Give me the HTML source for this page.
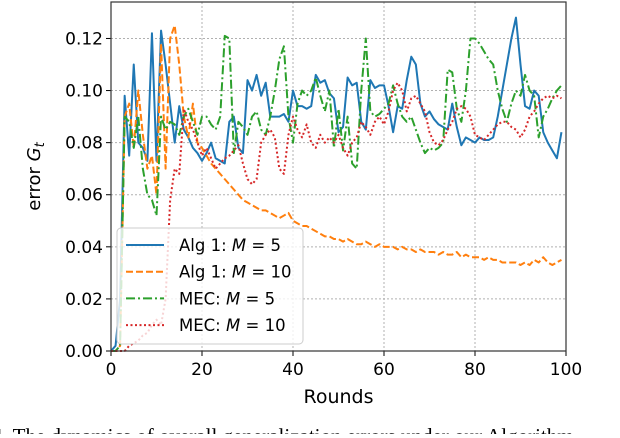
<!DOCTYPE html>
<html><head><meta charset="utf-8"><style>
body{margin:0;background:#fff;width:620px;height:434px;overflow:hidden;font-family:"DejaVu Sans","Liberation Sans",sans-serif}
</style></head><body>
<svg id="chart" width="620" height="434" xmlns="http://www.w3.org/2000/svg" font-family="DejaVu Sans, Liberation Sans, sans-serif">
<g id="grid"></g><g id="series"></g><g id="axes"></g><g id="legend"></g>
<text x="-8" y="443" font-family="Liberation Serif, serif" font-size="21" fill="#000">4. The dynamics of overall generalization errors under our Algorithm</text>
</svg>
<script>
const rounds = Array.from({length:100},(_,i)=>i);
const alg1M5 = [0,0.002,0.02,0.098,0.075,0.11,0.08,0.078,0.073,0.122,0.073,0.123,0.11,0.095,0.08,0.094,0.085,0.082,0.078,0.076,0.073,0.076,0.08,0.074,0.073,0.072,0.088,0.09,0.078,0.076,0.104,0.1,0.106,0.098,0.103,0.09,0.09,0.09,0.091,0.088,0.1,0.094,0.094,0.093,0.094,0.106,0.103,0.104,0.099,0.097,0.084,0.086,0.105,0.102,0.103,0.088,0.085,0.104,0.101,0.102,0.102,0.094,0.084,0.094,0.093,0.104,0.113,0.11,0.095,0.09,0.092,0.089,0.087,0.086,0.085,0.095,0.086,0.079,0.082,0.081,0.08,0.082,0.081,0.081,0.082,0.09,0.1,0.11,0.12,0.128,0.11,0.094,0.093,0.1,0.098,0.084,0.08,0.077,0.074,0.084];
const alg1M10 = [0,0,0.002,0.09,0.095,0.078,0.1,0.083,0.07,0.075,0.06,0.118,0.07,0.12,0.125,0.11,0.09,0.082,0.095,0.08,0.078,0.075,0.072,0.07,0.068,0.066,0.064,0.062,0.06,0.058,0.057,0.056,0.055,0.054,0.054,0.053,0.052,0.051,0.052,0.053,0.05,0.049,0.048,0.048,0.047,0.046,0.045,0.044,0.044,0.043,0.043,0.042,0.043,0.042,0.041,0.041,0.042,0.041,0.04,0.041,0.04,0.04,0.04,0.039,0.04,0.039,0.039,0.038,0.039,0.038,0.038,0.038,0.037,0.038,0.037,0.037,0.038,0.036,0.037,0.036,0.036,0.036,0.035,0.036,0.035,0.035,0.034,0.034,0.034,0.034,0.033,0.034,0.033,0.035,0.034,0.036,0.034,0.033,0.034,0.035];
const mecM5 = [0,0,0.002,0.09,0.088,0.078,0.09,0.07,0.06,0.058,0.052,0.09,0.085,0.088,0.087,0.083,0.09,0.093,0.088,0.083,0.09,0.09,0.087,0.085,0.09,0.121,0.12,0.076,0.088,0.086,0.083,0.09,0.092,0.085,0.083,0.09,0.1,0.112,0.117,0.09,0.08,0.095,0.1,0.098,0.1,0.105,0.098,0.092,0.1,0.078,0.093,0.077,0.09,0.072,0.07,0.1,0.12,0.092,0.09,0.091,0.093,0.095,0.102,0.095,0.09,0.088,0.09,0.085,0.08,0.076,0.078,0.077,0.078,0.08,0.108,0.107,0.093,0.088,0.1,0.12,0.12,0.118,0.115,0.112,0.11,0.1,0.093,0.088,0.095,0.1,0.098,0.106,0.1,0.098,0.082,0.09,0.093,0.097,0.1,0.102];
const mecM10 = [0,0,0,0,0.002,0.003,0.004,0.006,0.007,0.01,0.012,0.01,0.02,0.058,0.07,0.068,0.093,0.088,0.085,0.08,0.075,0.078,0.074,0.07,0.072,0.074,0.075,0.077,0.079,0.072,0.066,0.064,0.066,0.08,0.083,0.085,0.082,0.07,0.068,0.083,0.09,0.085,0.082,0.087,0.08,0.078,0.083,0.08,0.082,0.08,0.083,0.078,0.075,0.08,0.082,0.088,0.086,0.083,0.088,0.09,0.087,0.092,0.1,0.103,0.1,0.092,0.097,0.098,0.095,0.092,0.084,0.08,0.079,0.081,0.085,0.088,0.093,0.094,0.093,0.09,0.083,0.082,0.081,0.083,0.085,0.087,0.088,0.088,0.086,0.085,0.082,0.085,0.09,0.092,0.095,0.097,0.098,0.097,0.098,0.097];
const yTicks = [0,0.02,0.04,0.06,0.08,0.1,0.12];
const yTickLabels = ["0.00","0.02","0.04","0.06","0.08","0.10","0.12"];
const xTicks = [0,20,40,60,80,100];

const NS="http://www.w3.org/2000/svg";
const L=111,R=566,T=2,B=351;
const xs=v=>L+(v/100)*(R-L);
const ys=v=>B-(v/0.134)*(B-T);
function mk(tag,attrs,parent){const e=document.createElementNS(NS,tag);for(const k in attrs)e.setAttribute(k,attrs[k]);parent.appendChild(e);return e;}
const grid=document.getElementById('grid'),axes=document.getElementById('axes'),ser=document.getElementById('series'),leg=document.getElementById('legend');
yTicks.forEach((t,i)=>{
  const g=mk('line',{x1:L,x2:R,y1:ys(t),y2:ys(t),stroke:'#b0b0b0','stroke-width':1,'stroke-dasharray':'2,2'},grid);
  
  
  mk('line',{x1:L-5,x2:L,y1:ys(t),y2:ys(t),stroke:'#000'},axes);
  const tx=mk('text',{x:L-8,y:ys(t)+6,'text-anchor':'end','font-size':17},axes);tx.textContent=yTickLabels[i];
  
  
});
xTicks.forEach(t=>{
  const g=mk('line',{x1:xs(t),x2:xs(t),y1:T,y2:B,stroke:'#b0b0b0','stroke-width':1,'stroke-dasharray':'2,2'},grid);
  
  
  mk('line',{x1:xs(t),x2:xs(t),y1:B,y2:B+5,stroke:'#000'},axes);
  const tx=mk('text',{x:xs(t),y:B+24,'text-anchor':'middle','font-size':17},axes);tx.textContent=t;
  
  
});
const frame=mk('rect',{x:L,y:T,width:R-L,height:B-T,fill:'none',stroke:'#333','stroke-width':1.2},axes);


const xl=mk('text',{x:(L+R)/2,y:403,'text-anchor':'middle','font-size':19},axes);xl.textContent='Rounds';


const yl=mk('text',{x:0,y:0,'text-anchor':'middle','font-size':18,transform:`translate(40,${(T+B)/2}) rotate(-90)`},axes);
yl.innerHTML='error <tspan font-style="italic">G</tspan><tspan font-size="13" dy="4" font-style="italic">t</tspan>';



const series=[
 {d:alg1M5,c:'#1f77b4',dash:'',name:'series-alg1-m5',lab:'Alg 1: ',m:'5'},
 {d:alg1M10,c:'#ff7f0e',dash:'7,3',name:'series-alg1-m10',lab:'Alg 1: ',m:'10'},
 {d:mecM5,c:'#2ca02c',dash:'9,3,2,3',name:'series-mec-m5',lab:'MEC: ',m:'5'},
 {d:mecM10,c:'#d62728',dash:'2,2.5',name:'series-mec-m10',lab:'MEC: ',m:'10'}];
series.forEach(s=>{
  const p=mk('polyline',{points:s.d.map((v,i)=>xs(rounds[i])+','+ys(v)).join(' '),fill:'none',stroke:s.c,'stroke-width':2,'stroke-dasharray':s.dash,'stroke-linejoin':'round'},ser);
  
  
});
const box=mk('rect',{x:117,y:228,width:186,height:116,rx:4,fill:'#fff','fill-opacity':0.8,stroke:'#ccc'},leg);


series.forEach((s,i)=>{
  const y=245+i*26.7;
  const h=mk('line',{x1:126,x2:164,y1:y,y2:y,stroke:s.c,'stroke-width':2,'stroke-dasharray':s.dash},leg);
  
  
  const t=mk('text',{x:179,y:y+6,'font-size':16.5},leg);
  t.innerHTML=s.lab+'<tspan font-style="italic">M</tspan> = '+s.m;
  
  
});
</script>
</body></html>
